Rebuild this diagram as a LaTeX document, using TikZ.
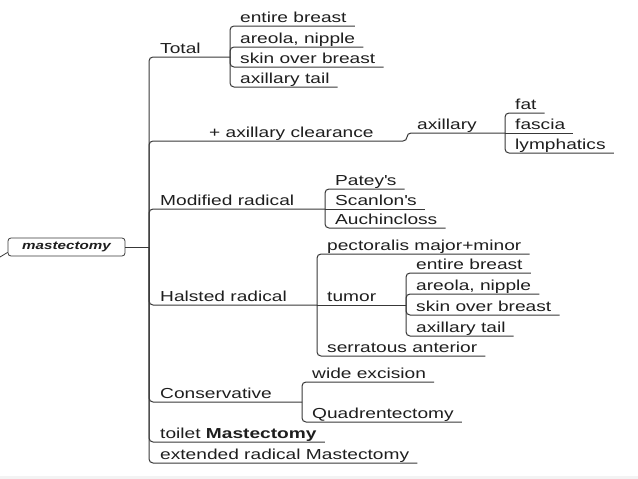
\documentclass[tikz,border=0pt]{standalone}
\usepackage{fontspec}
\setmainfont[FakeStretch=1.32]{Liberation Sans}
\definecolor{inkgray}{HTML}{1E1E1E}
\definecolor{linegray}{HTML}{383838}
\definecolor{bandgray}{HTML}{F3F3F3}
\begin{document}
\begin{tikzpicture}[x=1pt,y=-1pt,
  link/.style={draw=linegray,line width=1pt,rounded corners=4pt},
  item/.style={anchor=south west,inner xsep=8pt,inner ysep=0pt,text height=11pt,text depth=3pt,text=inkgray,font=\fontsize{14.5}{16}\selectfont},
  root/.style={draw=linegray,line width=0.8pt,rounded corners=3pt,minimum width=117pt,minimum height=18pt,inner sep=0pt,text=inkgray,font=\fontsize{11.5}{13}\selectfont\bfseries\itshape}]
\useasboundingbox (0,0) rectangle (638,479);
\fill[bandgray] (0,476) rectangle (638,479);

% Root
\node[root] (root) at (66.5,247) {mastectomy};
\coordinate (tail) at (0,257);
\coordinate (spine) at (149,247);
\draw[link,line width=0.8pt] ([yshift=4pt]root.south west) -- (tail);
\draw[link] (root.east) -- (spine);

% Total
\coordinate (totb) at (230,57);
\node[item] (total) at (152,57) {Total};
\draw[link] (spine) |- (totb);
\node[item] (teb) at (232,26) {entire breast};
\node[item] (tan) at (232,47) {areola, nipple};
\node[item] (tsk) at (232,67) {skin over breast};
\node[item] (tat) at (232,87) {axillary tail};
\draw[link] (totb) |- (teb.south east);
\draw[link] (totb) |- (tan.south east);
\draw[link] (totb) |- (tsk.south east);
\draw[link] (totb) |- (tat.south east);

% + axillary clearance
\coordinate (clrs) at (407,141);
\coordinate (axb) at (505,133);
\node[item] (clear) at (201,141) {+ axillary clearance};
\node[item] (axil) at (409,133) {axillary};
\draw[link] (spine) |- (clrs) |- (axb);
\node[item] (fat) at (507,113) {fat};
\node[item] (fascia) at (507,133) {fascia};
\node[item] (lymph) at (507,153) {lymphatics};
\draw[link] (axb) |- (fat.south east);
\draw[link] (axb) -- (fascia.south east);
\draw[link] (axb) |- (lymph.south east);

% Modified radical
\coordinate (modb) at (325,209);
\node[item] (modif) at (152,209) {Modified radical};
\draw[link] (spine) |- (modb);
\node[item] (patey) at (327,189) {Patey\textquotesingle s};
\node[item] (scanlon) at (327,209) {Scanlon\textquotesingle s};
\node[item] (auch) at (327,228) {Auchincloss};
\draw[link] (modb) |- (patey.south east);
\draw[link] (modb) -- (scanlon.south east);
\draw[link] (modb) |- (auch.south east);

% Halsted radical
\coordinate (halb) at (317,305);
\coordinate (tumb) at (406,305);
\node[item] (halst) at (152,305) {Halsted radical};
\draw[link] (spine) |- (halb);
\node[item] (pect) at (319,254) {pectoralis major+minor};
\node[item] (tumor) at (319,305) {tumor};
\node[item] (serr) at (319,356) {serratous anterior};
\draw[link] (halb) |- (pect.south east);
\draw[link] (halb) -- (tumb);
\draw[link] (halb) |- (serr.south east);
\node[item] (ueb) at (408,273) {entire breast};
\node[item] (uan) at (408,294) {areola, nipple};
\node[item] (usk) at (408,315) {skin over breast};
\node[item] (uat) at (408,336) {axillary tail};
\draw[link] (tumb) |- (ueb.south east);
\draw[link] (tumb) |- (uan.south east);
\draw[link] (tumb) |- (usk.south east);
\draw[link] (tumb) |- (uat.south east);

% Conservative
\coordinate (conb) at (302,402);
\node[item] (conserv) at (152,402) {Conservative};
\draw[link] (spine) |- (conb);
\node[item] (wide) at (304,382) {wide excision};
\node[item] (quad) at (304,422) {Quadrentectomy};
\draw[link] (conb) |- (wide.south east);
\draw[link] (conb) |- (quad.south east);

% Others
\node[item] (toilet) at (152,442) {toilet \textbf{Mastectomy}};
\node[item] (extrad) at (152,463) {extended radical Mastectomy};
\draw[link] (spine) |- (toilet.south east);
\draw[link] (spine) |- (extrad.south east);
\end{tikzpicture}
\end{document}
